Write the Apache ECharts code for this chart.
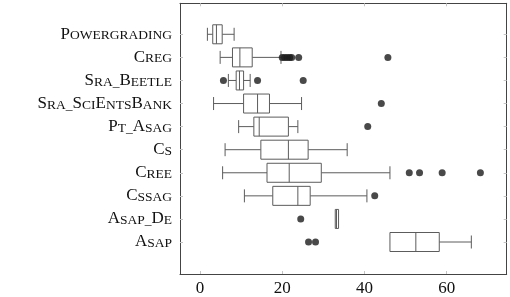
<!DOCTYPE html>
<html><head><meta charset="utf-8">
<script src="https://cdn.jsdelivr.net/npm/echarts@6/dist/echarts.min.js"></script>
<style>html,body{margin:0;padding:0;background:#fff}#c{width:510px;height:297px}</style>
</head><body><div id="c"></div>
<script>
const categories = ['Powergrading','Creg','Sra_Beetle','Sra_SciEntsBank','Pt_Asag','Cs','Cree','Cssag','Asap_De','Asap'];
const whiskerLow  = [1.8, 4.9, 6.9, 3.3, 9.4, 6.1, 5.5, 10.8, 32.9, 46.2];
const q1          = [3.1, 7.9, 8.8, 10.6, 13.1, 14.8, 16.3, 17.7, 32.9, 46.2];
const median      = [4.0, 9.7, 9.6, 14.0, 14.4, 21.5, 21.7, 23.8, 33.2, 52.5];
const q3          = [5.4, 12.7, 10.6, 16.9, 21.5, 26.3, 29.5, 26.8, 33.7, 58.2];
const whiskerHigh = [8.3, 19.7, 12.2, 24.7, 23.8, 35.8, 46.2, 40.6, 33.7, 66.0];
const outliers = [[], [20.0, 20.6, 21.2, 21.8, 22.3, 24.0, 45.7], [5.7, 14.0, 25.1], [44.1], [40.8], [], [50.9, 53.4, 58.9, 68.2], [42.5], [24.5], [26.4, 28.1]];
const xTicks = [0, 20, 40, 60];

const FONT = 'Liberation Serif';
function smallCaps(name) {
  let out = '';
  let run = '', runType = null;
  const flush = () => { if (run) out += '{' + runType + '|' + run + '}'; run = ''; };
  for (const ch of name) {
    const t = (ch >= 'A' && ch <= 'Z') ? 'b' : 's';
    if (t !== runType) { flush(); runType = t; }
    run += ch.toUpperCase();
  }
  flush();
  return out;
}

const boxData = categories.map((c, i) => [i, whiskerLow[i], q1[i], median[i], q3[i], whiskerHigh[i]]);
const outlierData = [];
outliers.forEach((arr, i) => arr.forEach(v => outlierData.push([v, i])));
const catIdx = categories.map((c, i) => i);

const STROKE = '#5c5c5c';
function renderItem(params, api) {
  const i = api.value(0);
  const wl = api.value(1), a = api.value(2), m = api.value(3), b = api.value(4), wh = api.value(5);
  const y = api.coord([0, i])[1];
  const X = v => api.coord([v, i])[0];
  const bh = 9.5, ch = 6.5;
  const st = { stroke: STROKE, lineWidth: 1, fill: null };
  const line = (x1, y1, x2, y2) => ({ type: 'line', shape: { x1, y1, x2, y2 }, style: st });
  const children = [];
  if (wl < a) {
    children.push(line(X(wl), y, X(a), y));
    children.push(line(X(wl), y - ch, X(wl), y + ch));
  }
  if (wh > b) {
    children.push(line(X(b), y, X(wh), y));
    children.push(line(X(wh), y - ch, X(wh), y + ch));
  }
  children.push({ type: 'rect', shape: { x: X(a), y: y - bh, width: X(b) - X(a), height: 2 * bh }, style: { stroke: STROKE, lineWidth: 1, fill: '#fff' } });
  children.push(line(X(m), y - bh, X(m), y + bh));
  return { type: 'group', children };
}

const XMIN = -4.865, XMAX = 74.6, YMIN = -1.343, YMAX = 10.386;
const frameLine = { show: true, onZero: false, lineStyle: { color: '#444', width: 1 } };
const tickStyle = { show: true, inside: true, length: 3, lineStyle: { color: '#c4c4c4', width: 1 } };

const chart = echarts.init(document.getElementById('c'), null, { renderer: 'canvas' });
chart.setOption({
  animation: false,
  grid: { left: 180, right: 3.3, top: 3.3, bottom: 23 },
  xAxis: [
    { type: 'value', min: XMIN, max: XMAX, position: 'bottom',
      axisLine: frameLine, splitLine: { show: false },
      axisTick: Object.assign({ customValues: xTicks }, tickStyle),
      axisLabel: { customValues: xTicks, fontFamily: FONT, fontSize: 17, color: '#111', margin: 6 } },
    { type: 'value', min: XMIN, max: XMAX, position: 'top',
      axisLine: frameLine, splitLine: { show: false },
      axisTick: Object.assign({ customValues: xTicks }, tickStyle),
      axisLabel: { show: false } }
  ],
  yAxis: [
    { type: 'value', min: YMIN, max: YMAX, inverse: true, position: 'left',
      axisLine: frameLine, splitLine: { show: false },
      axisTick: Object.assign({ customValues: catIdx }, tickStyle),
      axisLabel: { customValues: catIdx, margin: 8, color: '#111',
        formatter: v => smallCaps(categories[Math.round(v)]),
        rich: {
          b: { fontFamily: FONT, fontSize: 17, color: '#111', verticalAlign: 'bottom', lineHeight: 17 },
          s: { fontFamily: FONT, fontSize: 13.5, color: '#111', verticalAlign: 'bottom', lineHeight: 17 }
        } } },
    { type: 'value', min: YMIN, max: YMAX, inverse: true, position: 'right',
      axisLine: frameLine, splitLine: { show: false },
      axisTick: Object.assign({ customValues: catIdx }, tickStyle),
      axisLabel: { show: false } }
  ],
  series: [
    { type: 'custom', renderItem, data: boxData, encode: { x: [1, 2, 3, 4, 5], y: 0 }, xAxisIndex: 0, yAxisIndex: 0, clip: false },
    { type: 'scatter', data: outlierData, symbol: 'circle', symbolSize: 7, itemStyle: { color: '#1c1c1c' }, xAxisIndex: 0, yAxisIndex: 0 }
  ]
});
</script>
</body></html>
